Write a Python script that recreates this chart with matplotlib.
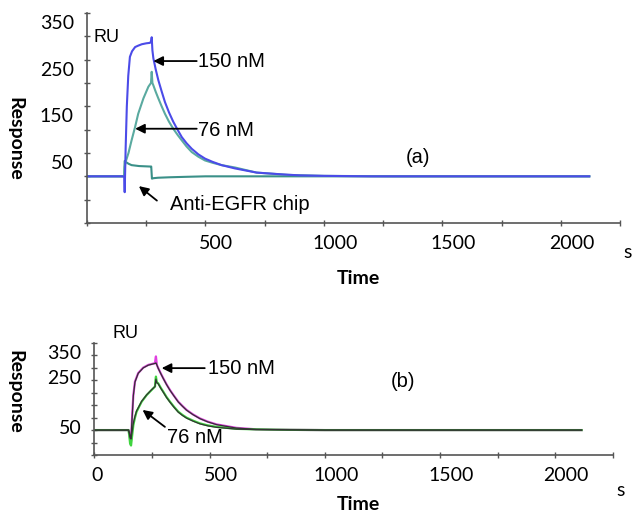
import matplotlib
matplotlib.use('Agg')
import matplotlib.pyplot as plt
from matplotlib.transforms import ScaledTranslation

# (a) Anti-EGFR chip
t_150a = [0, 100, 150, 157, 159, 163, 168, 174, 181, 190, 203, 216, 231, 250, 266, 271, 273, 276,
          280, 290, 301, 315, 329, 346, 364, 382, 400, 420, 442, 470, 498, 530, 568, 624, 716,
          829, 900, 1000, 1200, 1500, 1800, 2120]
r_150a = [0, 0, 0, 0, -34, 60, 150, 215, 256, 268, 277, 280, 283, 285, 286, 290, 298, 270,
          253, 229, 206, 182, 159, 137, 117, 100, 84, 71, 59, 47, 38, 31, 24, 17, 8,
          4, 2, 1, 0, 0, 0, 0]
t_76a = [0, 150, 157, 159, 163, 175, 188, 203, 216, 238, 259, 270, 273, 276, 280, 290, 301, 315,
         329, 346, 364, 382, 400, 420, 442, 470, 498, 530, 568, 624, 716, 850, 1000, 1300, 1600,
         1900, 2120]
r_76a = [0, 0, 0, 20, 31, 50, 77, 106, 134, 167, 192, 200, 224, 200, 195, 181, 167, 150,
         134, 117, 102, 89, 77, 64, 52, 42, 34, 29, 24, 19, 8, 3, 1, 0, 0,
         0, 0]
t_chip = [0, 150, 157, 159, 163, 175, 188, 220, 266, 271, 274, 280, 300, 350, 421, 500, 700, 1000, 1500, 2120]
r_chip = [0, 0, 0, 33, 31, 27, 24, 22, 21, 21, -5, -4, -3, -2, -1, 0, 0, 0, 0, 0]

# (b) data (coloured) and fits (black)
t_150b = [0, 148, 151, 155, 159, 164, 169, 176, 190, 212, 234, 263, 265, 267, 271,
          277, 288, 299, 313, 328, 346, 364, 382, 400, 428, 458, 492, 530, 616, 703,
          850, 1000, 1300, 1600, 1900, 2115]
r_150b = [0, 0, -10, -35, -40, 60, 141, 195, 229, 251, 262, 269, 285, 296, 262,
          249, 228, 208, 184, 161, 137, 114, 97, 81, 63, 47, 34, 23, 9, 3,
          1, 0, 0, 0, 0, 0]
r_150b_fit = [0, 0, -8, -25, -28, 55, 138, 193, 228, 250, 261, 268, 269, 270, 262,
              248, 227, 207, 183, 160, 136, 113, 96, 80, 62, 46, 33, 22, 8, 3,
              1, 0, 0, 0, 0, 0]
t_76b = [0, 148, 151, 155, 159, 164, 169, 176, 183, 205, 227, 248, 263, 265, 267, 271,
         277, 288, 299, 313, 328, 346, 364, 382, 400, 428, 458, 492, 530, 616, 700,
         850, 1000, 1300, 1600, 1900, 2115]
r_76b = [0, 0, -20, -55, -62, -20, 20, 50, 74, 114, 141, 161, 175, 200, 215, 192,
         188, 170, 154, 133, 114, 93, 74, 61, 50, 38, 27, 19, 13, 5, 3,
         1, 0, 0, 0, 0, 0]
r_76b_fit = [0, 0, -12, -32, -36, -5, 28, 55, 77, 116, 142, 162, 175, 190, 205, 190,
             186, 168, 152, 131, 112, 91, 72, 59, 48, 36, 25, 17, 11, 4, 2,
             1, 0, 0, 0, 0, 0]

x_ticks = [0, 250, 500, 750, 1000, 1250, 1500, 1750, 2000, 2250]
x_labels_a = ['', '', '500', '', '1000', '', '1500', '', '2000', '']
x_labels_b = ['0', '', '500', '', '1000', '', '1500', '', '2000', '']
y_ticks = [-100, -50, 0, 50, 100, 150, 200, 250, 300, 350]
y_labels_a = ['', '', '', '50', '', '150', '', '250', '', '350']
y_labels_b = ['', '', '', '50', '', '', '', '250', '', '350']

tick_font = 'Lato'
note_font = 'Liberation Sans'
axis_col = '#555555'

fig = plt.figure(figsize=(6.32, 5.13), dpi=100)
ax1 = fig.add_axes([0.1377, 0.5653, 0.8434, 0.4094])
ax2 = fig.add_axes([0.1494, 0.1131, 0.8201, 0.2183])

ax1.plot(t_chip, r_chip, color='#3a9088', lw=1.5)
ax1.plot(t_76a, r_76a, color='#5aaaa0', lw=1.5)
ax1.plot(t_150a, r_150a, color='#4b4be8', lw=1.5)

ax2.plot(t_150b, r_150b, color='#e040e0', lw=1.6)
ax2.plot(t_76b, r_76b, color='#3fd43f', lw=1.6)
ax2.plot(t_150b, r_150b_fit, color='#333333', lw=0.9)
ax2.plot(t_76b, r_76b_fit, color='#333333', lw=0.9)

for ax, xl, yl in [(ax1, x_labels_a, y_labels_a), (ax2, x_labels_b, y_labels_b)]:
    ax.set_xlim(0, 2250)
    ax.set_ylim(-100, 350)
    for s in ['top', 'right']:
        ax.spines[s].set_visible(False)
    for s in ['left', 'bottom']:
        ax.spines[s].set_color(axis_col)
        ax.spines[s].set_linewidth(1.2)
    ax.set_xticks(x_ticks)
    ax.set_xticklabels(xl, fontsize=14, family=tick_font)
    ax.set_yticks(y_ticks)
    ax.set_yticklabels(yl, fontsize=14, family=tick_font)
    ax.tick_params(direction='inout', length=5, color=axis_col, width=1)
    ax.tick_params(axis='x', pad=6)
    ax.tick_params(axis='y', pad=7)
    # the original labels sit a little off their ticks
    for lab in ax.get_xticklabels():
        dx = 0.03 if lab.get_text() == '0' else 0.11
        lab.set_transform(lab.get_transform() + ScaledTranslation(dx, 0, fig.dpi_scale_trans))
    for lab in ax.get_yticklabels():
        lab.set_transform(lab.get_transform() + ScaledTranslation(0, -0.09, fig.dpi_scale_trans))

arrow = dict(arrowstyle='-|>', color='black', lw=1.3, mutation_scale=14, shrinkA=0, shrinkB=0)
fs_note = 14.5

# panel (a) notes
ax1.annotate('', xy=(280, 247), xytext=(463, 247), arrowprops=arrow)
ax1.text(468, 247, '150 nM', fontsize=fs_note, family=note_font, va='center', ha='left')
ax1.annotate('', xy=(203, 102), xytext=(463, 102), arrowprops=arrow)
ax1.text(468, 99, '76 nM', fontsize=fs_note, family=note_font, va='center', ha='left')
ax1.annotate('', xy=(219, -21), xytext=(295, -52), arrowprops=arrow)
ax1.text(350, -60, 'Anti-EGFR chip', fontsize=fs_note, family=note_font, va='center', ha='left')
ax1.text(1397, 41, '(a)', fontsize=fs_note, family=note_font, va='center', ha='center')
ax1.text(84, 298, 'RU', fontsize=13, family=note_font, va='center', ha='center')

# panel (b) notes
ax2.annotate('', xy=(292, 249), xytext=(479, 249), arrowprops=arrow)
ax2.text(492, 249, '150 nM', fontsize=fs_note, family=note_font, va='center', ha='left')
ax2.annotate('', xy=(209, 81), xytext=(306, 13), arrowprops=arrow)
ax2.text(315, -28, '76 nM', fontsize=fs_note, family=note_font, va='center', ha='left')
ax2.text(1341, 194, '(b)', fontsize=fs_note, family=note_font, va='center', ha='center')

fig.text(125 / 632, 1 - 333 / 513, 'RU', fontsize=13, family=note_font, va='center', ha='center')

for y_resp, y_time, y_s, x_s in [(139, 278, 252, 628), (392, 505, 490, 621)]:
    fig.text(15 / 632, 1 - y_resp / 513, 'Response', fontsize=14, fontweight='bold',
             family=tick_font, rotation=270, va='center', ha='center')
    fig.text(358 / 632, 1 - y_time / 513, 'Time', fontsize=14, fontweight='bold',
             family=tick_font, va='center', ha='center')
    fig.text(x_s / 632, 1 - y_s / 513, 's', fontsize=14, family=tick_font, va='center', ha='center')

fig.savefig('out.png', dpi=100)
